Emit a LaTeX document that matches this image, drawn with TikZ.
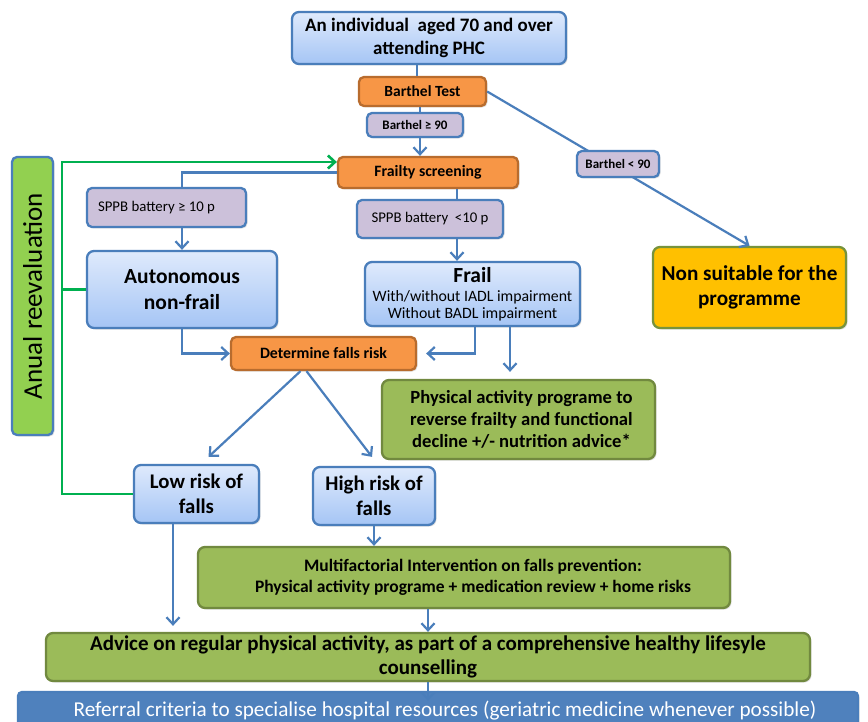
\documentclass[tikz,border=0pt]{standalone}
\usepackage{fontspec}
\setmainfont{Carlito}
\usetikzlibrary{arrows.meta,shadows}
\definecolor{bord}{HTML}{4A7EBB}
\definecolor{lbtop}{HTML}{DFEAFC}
\definecolor{lbbot}{HTML}{A5C5F5}
\definecolor{orng}{HTML}{F79646}
\definecolor{orngb}{HTML}{B86C2E}
\definecolor{lav}{HTML}{CCC1DA}
\definecolor{grn}{HTML}{9BBB59}
\definecolor{grnb}{HTML}{71893F}
\definecolor{yel}{HTML}{FFC000}
\definecolor{yelb}{HTML}{77933C}
\definecolor{refb}{HTML}{4F81BD}
\definecolor{anual}{HTML}{92D050}
\definecolor{gline}{HTML}{00B050}
\tikzset{
  fs/.code={\pgfmathsetmacro\mybs{#1*1.18}\edef\tmp{\noexpand\tikzset{font=\noexpand\fontsize{#1}{\mybs}\noexpand\selectfont}}\tmp},
  fsb/.code={\pgfmathsetmacro\mybs{#1*1.18}\edef\tmp{\noexpand\tikzset{font=\noexpand\fontsize{#1}{\mybs}\noexpand\selectfont\noexpand\bfseries}}\tmp},
  bx/.style={rounded corners=7pt, line width=2.3pt, align=center, inner sep=1pt,
    drop shadow={opacity=0.25, shadow xshift=1.5pt, shadow yshift=-1.5pt}},
  lblue/.style={bx, draw=bord, top color=lbtop, bottom color=lbbot},
  orbox/.style={bx, draw=orngb, fill=orng, rounded corners=5pt},
  lavbox/.style={bx, draw=bord, fill=lav, rounded corners=5pt},
  grbox/.style={bx, draw=grnb, fill=grn},
  arr/.style={draw=bord, line width=2.2pt, -{Straight Barb[length=7pt,width=13pt,line width=2.2pt]}},
  ln/.style={draw=bord, line width=2.2pt},
  garr/.style={draw=gline, line width=2.6pt, -{Straight Barb[length=7pt,width=13pt,line width=2.6pt]}},
  gln/.style={draw=gline, line width=2.6pt},
}
\begin{document}
\begin{tikzpicture}[x=1pt,y=-1pt]
\clip (0,0) rectangle (868,722);
\fill[white] (0,0) rectangle (868,722);

% column helpers
\coordinate (c457) at (457,0);
\coordinate (c475) at (475,0);
\coordinate (c510) at (510,0);
\coordinate (c173) at (173,0);
\coordinate (c62) at (62,0);
\coordinate (c417) at (417,0);
\coordinate (c420) at (420,0);

\node[lblue, fsb=19, minimum width=274pt, minimum height=52pt] (top) at (429,38)
  {An individual\ \ aged 70 and over\\attending PHC};
\node[orbox, fsb=15.5, minimum width=127pt, minimum height=29pt] (barthel) at (422.5,91.5) {Barthel Test};
\node[orbox, fsb=15.8, minimum width=180pt, minimum height=31pt] (frailty) at (428,172.5) {Frailty screening};
\node[bx, draw=yelb, fill=yel, fsb=21.2, minimum width=193pt, minimum height=81pt] (nonsuit) at (749.5,287.5)
  {Non suitable for the\\programme};

\draw[arr] (barthel.east) -- (nonsuit.north);
\node[lavbox, fsb=13, minimum width=82pt, minimum height=26pt] (b90lt) at (618,164) {Barthel < 90};

\draw[ln] (top.south -| c417) -- (barthel.north -| c417);
\node[lavbox, fsb=13, minimum width=96pt, minimum height=24pt] (b90) at (415,125) {Barthel ≥ 90};
\draw[ln] (barthel.south -| c420) -- (b90.north -| c420);
\draw[arr] (b90.south -| c420) -- (frailty.north -| c420);

\node[lavbox, fs=14.8, minimum width=159pt, minimum height=39pt] (sppb10) at (166.5,207.5) {SPPB battery ≥ 10 p\hspace*{20pt}};
\node[lavbox, fs=14.8, minimum width=146pt, minimum height=38pt] (sppblt) at (430,219) {SPPB battery\ \ <10 p};

\node[lblue, fsb=21.5, minimum width=190pt, minimum height=77pt] (auto) at (182,289.5) {Autonomous\\non-frail};
\node[lblue, fs=15.8, minimum width=215pt, minimum height=64pt] (frail) at (472.5,294)
  {{\fontsize{21.5}{22}\selectfont\bfseries Frail}\\[1pt]With/without IADL impairment\\[-2pt]Without BADL impairment};

\node[orbox, fsb=15.8, minimum width=185pt, minimum height=33pt] (determine) at (323.5,353.5) {Determine falls risk};
\node[grbox, fsb=18.6, minimum width=273pt, minimum height=79pt] (pap) at (518.5,419.5)
  {\hspace*{6pt}Physical activity programe to\\\hspace*{6pt}reverse frailty and functional\\\hspace*{6pt}decline +/- nutrition advice*};

\node[lblue, fsb=20.8, minimum width=125pt, minimum height=58pt] (low) at (196.5,494) {Low risk of\\falls};
\node[lblue, fsb=20.8, minimum width=122pt, minimum height=58pt] (high) at (374,496) {High risk of\\falls};

\node[grbox, fsb=17.5, minimum width=532pt, minimum height=61pt] (multi) at (464,577.5)
  {\hspace*{18pt}Multifactorial Intervention on falls prevention:\\\hspace*{18pt}Physical activity programe + medication review + home risks};
\node[grbox, fsb=21, minimum width=764pt, minimum height=48pt, inner ysep=0pt] (advice) at (428,657)
  {Advice on regular physical activity, as part of a comprehensive healthy lifesyle\\[-1pt]counselling};
\node[bx, draw=bord, fill=refb, text=white, fs=21.2, rounded corners=4pt, minimum width=840pt, minimum height=50pt, text depth=16pt] (referral) at (438,717)
  {\hspace*{14pt}Referral criteria to specialise hospital resources (geriatric medicine whenever possible)};

\node[bx, draw=bord, fill=anual, rounded corners=5pt, rotate=90, fs=27, minimum width=278pt, minimum height=41pt] (anual) at (32.5,296) {Anual reevaluation};

% blue connectors
\draw[ln] (frailty.west) -| (sppb10.north -| auto.north);
\draw[arr] (sppb10.south -| auto.north) -- (auto.north);
\draw[ln] (frailty.south -| c457) -- (sppblt.north -| c457);
\draw[arr] (sppblt.south -| c457) -- (frail.north -| c457);
\draw[arr] (auto.south) |- (determine.west);
\draw[arr] (frail.south -| c475) |- ([xshift=9pt]determine.east);
\draw[arr] (frail.south -| c510) -- ([yshift=7pt]pap.north -| c510);
\draw[arr] ([xshift=-23pt]determine.south) -- ([xshift=12pt,yshift=7pt]low.north);
\draw[arr] ([xshift=-17pt]determine.south) -- ([xshift=-2pt,yshift=9pt]high.north);
\draw[arr] (low.south -| c173) -- ([yshift=6pt]advice.north -| c173);
\draw[arr] (high.south) -- (multi.north -| high.south);
\draw[arr] (multi.south -| advice.north) -- (advice.north);
\draw[arr] (advice.south) -- ([yshift=-10pt]referral.north -| advice.south);

% green connectors
\draw[gln] (auto.west) -- (auto.west -| c62);
\draw[garr] (low.west) -- (low.west -| c62) |- ([yshift=10.5pt]frailty.west);
\end{tikzpicture}
\end{document}
